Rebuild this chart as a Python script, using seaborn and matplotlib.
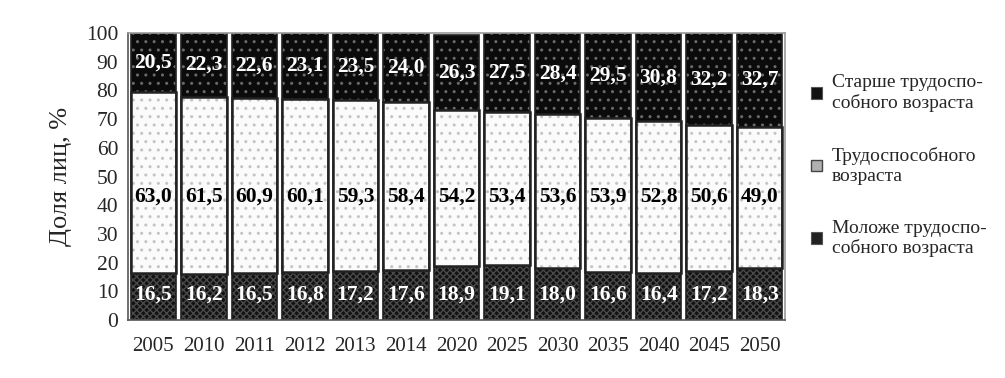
import numpy as np
import pandas as pd
import matplotlib
matplotlib.use("Agg")
import matplotlib.pyplot as plt
import seaborn as sns
from matplotlib.patches import Patch

years = ["2005", "2010", "2011", "2012", "2013", "2014", "2020",
         "2025", "2030", "2035", "2040", "2045", "2050"]
younger = [16.5, 16.2, 16.5, 16.8, 17.2, 17.6, 18.9, 19.1, 18.0, 16.6, 16.4, 17.2, 18.3]
working = [63.0, 61.5, 60.9, 60.1, 59.3, 58.4, 54.2, 53.4, 53.6, 53.9, 52.8, 50.6, 49.0]
older = [20.5, 22.3, 22.6, 23.1, 23.5, 24.0, 26.3, 27.5, 28.4, 29.5, 30.8, 32.2, 32.7]

labels = ["Старше трудоспо-\nсобного возраста",
          "Трудоспособного\nвозраста",
          "Моложе трудоспо-\nсобного возраста"]

sns.set_style("white")
plt.rcParams["font.family"] = ["Liberation Serif", "DejaVu Serif"]

df = pd.DataFrame({"year": years, "young": younger, "work": working, "old": older})
df["c1"] = df["young"]
df["c2"] = df["young"] + df["work"]
df["c3"] = df["c2"] + df["old"]

fig = plt.figure(figsize=(10.05, 3.78), dpi=100)
ax = fig.add_axes([0.1274, 0.153, 0.6536, 0.760])

# stacked via layered cumulative bars
sns.barplot(data=df, x="year", y="c3", color="#0b0b0b", width=0.9, ax=ax,
            saturation=1, edgecolor="#6a6a6a", linewidth=0, hatch="..")
sns.barplot(data=df, x="year", y="c2", color="#fbfbfb", width=0.9, ax=ax,
            saturation=1, edgecolor="#c4c4c4", linewidth=0, hatch="..")
sns.barplot(data=df, x="year", y="c1", color="#121212", width=0.9, ax=ax,
            saturation=1, edgecolor="#4a4a4a", linewidth=0, hatch="xxxxx")

# outlines around segments
ax.bar(np.arange(len(years)), df["c3"], width=0.9, fill=False,
       edgecolor="#222222", linewidth=1.2)
ax.bar(np.arange(len(years)), df["work"], bottom=df["c1"], width=0.9, fill=False,
       edgecolor="#222222", linewidth=1.8)

for i in range(len(years)):
    ax.text(i, df["c2"][i] + df["old"][i] * 0.5, f"{older[i]:.1f}".replace(".", ","),
            ha="center", va="center", color="white", fontsize=15.5, fontweight="bold")
    ax.text(i, 43, f"{working[i]:.1f}".replace(".", ","),
            ha="center", va="center", color="black", fontsize=15.5, fontweight="bold")
    ax.text(i, 9, f"{younger[i]:.1f}".replace(".", ","),
            ha="center", va="center", color="white", fontsize=15.5, fontweight="bold")

ax.set_xlim(-0.5, len(years) - 0.5)
ax.set_ylim(0, 100)
ax.set_yticks(range(0, 101, 10))
ax.set_xticks(np.arange(len(years)))
ax.set_xticklabels(years)
ax.set_xticks(np.arange(len(years) + 1) - 0.5, minor=True)
ax.tick_params(axis="x", which="major", length=0, pad=12, labelsize=15)
ax.tick_params(axis="x", which="minor", length=5, width=1, color="#555555", direction="out")
ax.tick_params(axis="y", length=4, width=1, color="#555555", direction="out",
               labelsize=15.5, pad=3)
ax.set_xlabel("")
ax.set_ylabel("Доля лиц, %", fontsize=19, labelpad=10)

for s in ["top", "right"]:
    ax.spines[s].set_color("#9a9a9a")
    ax.spines[s].set_linewidth(1.2)
for s in ["left", "bottom"]:
    ax.spines[s].set_color("#555555")
    ax.spines[s].set_linewidth(1.2)

handles = [Patch(facecolor="#111111", edgecolor="#555555", linewidth=0.8),
           Patch(facecolor="#b0b0b0", edgecolor="#444444", linewidth=1.0),
           Patch(facecolor="#222222", edgecolor="#555555", linewidth=0.8)]
fig.legend(handles, labels, loc="upper left", bbox_to_anchor=(0.79, 0.85),
           frameon=False, fontsize=14, handlelength=0.55, handleheight=0.55,
           handletextpad=0.5, labelspacing=1.8, alignment="left")

fig.savefig("out.png", dpi=100)
